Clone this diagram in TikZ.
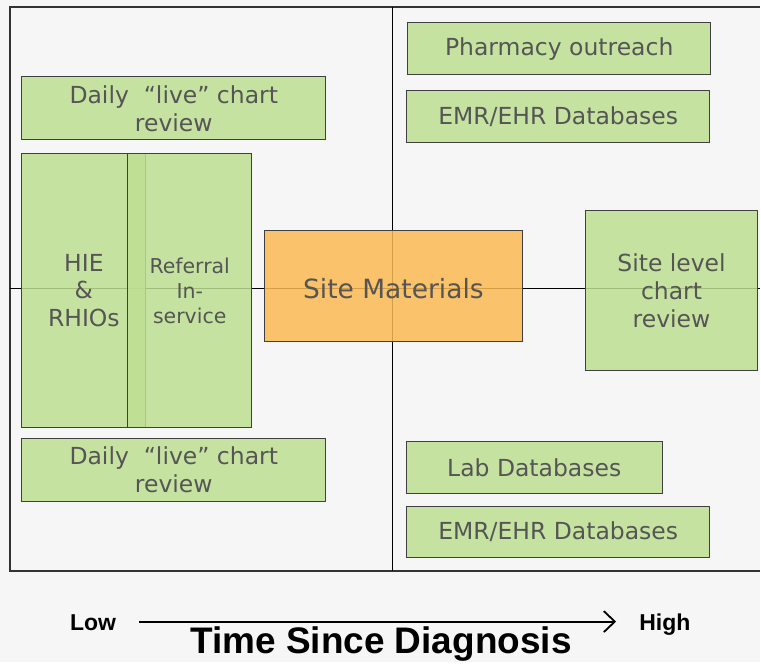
\documentclass[tikz,border=0pt]{standalone}
\usepackage{fontspec}
\setmainfont{DejaVu Sans}
\newfontfamily\axisfont{Liberation Sans}
\usetikzlibrary{arrows.meta}
\definecolor{boxgreen}{HTML}{BEDF92}
\definecolor{siteorange}{HTML}{FBB952}
\definecolor{labelgray}{HTML}{555555}
\definecolor{paper}{HTML}{F6F6F6}

\begin{document}
\begin{tikzpicture}
 [
  x=1pt, y=-1pt,
  >={Straight Barb[length=11pt,width=21pt]},
  tool/.style    = {draw=black!75, line width=1pt, fill=boxgreen, fill opacity=.85,
                    text opacity=1, text=labelgray, align=center, inner sep=0pt,
                    font=\fontsize{23.5}{28}\selectfont},
  hub/.style     = {tool, fill=siteorange, font=\fontsize{26.5}{30}\selectfont},
  axisend/.style = {font=\axisfont\bfseries\fontsize{23}{23}\selectfont,
                    inner sep=0pt, text height=17pt, text depth=0pt, anchor=base west},
 ]
 \def \midx {393}
 \def \midy {289}
 \def \ftop {7}
 \def \fbot {572}

 % paper and quadrant frame
 \fill[paper] (0,0) rectangle (761,663);
 \draw[line width=2.2pt, black!80] (761,\ftop) -- (10,\ftop) -- (10,\fbot) -- (761,\fbot);
 \draw[line width=1.8pt] (\midx,\ftop) -- (\midx,\fbot);
 \draw[line width=1.8pt] (10,\midy) -- (761,\midy);

 % left half
 \node[tool, minimum width=304pt, minimum height=63pt] (dailytop) at (174,108.5)
  {Daily\ \ “live” chart\\review};
 \node[tool, minimum width=124pt, minimum height=274pt] (hie) at (84,291)
  {HIE\\\&\\RHIOs};
 \node[tool, minimum width=124pt, minimum height=274pt,
       font=\fontsize{20.5}{25}\selectfont] (referral) at (190,291)
  {Referral\\In-\\service};
 \node[tool, minimum width=304pt, minimum height=63pt] (dailybot) at (174,470.5)
  {Daily\ \ “live” chart\\review};

 % centre
 \node[hub, minimum width=258pt, minimum height=111pt, text height=25pt, text depth=0pt]
  (site) at (394,286.5) {Site Materials};

 % right half
 \node[tool, minimum width=304pt, minimum height=52pt] (pharmacy) at (560,49)
  {Pharmacy outreach};
 \node[tool, minimum width=304pt, minimum height=52pt] (emrtop) at (559,117)
  {EMR/EHR Databases};
 \node[tool, minimum width=173pt, minimum height=160pt] (sitelevel) at (672.5,291)
  {Site level\\chart\\review};
 \node[tool, minimum width=256pt, minimum height=52pt] (lab) at (535,468)
  {Lab Databases};
 \node[tool, minimum width=304pt, minimum height=51pt] (emrbot) at (559,532.5)
  {EMR/EHR Databases};

 % time axis
 \node[axisend] (low) at (70,631) {Low};
 \node[axisend] (high) at (640,631) {High};
 \draw[->, line width=1.8pt, shorten <=23pt, shorten >=23pt] (low.east) -- (high.west);
 \node[font=\axisfont\bfseries\fontsize{37}{37}\selectfont, anchor=base] (axis) at (381.5,654)
  {Time Since Diagnosis};
\end{tikzpicture}
\end{document}
